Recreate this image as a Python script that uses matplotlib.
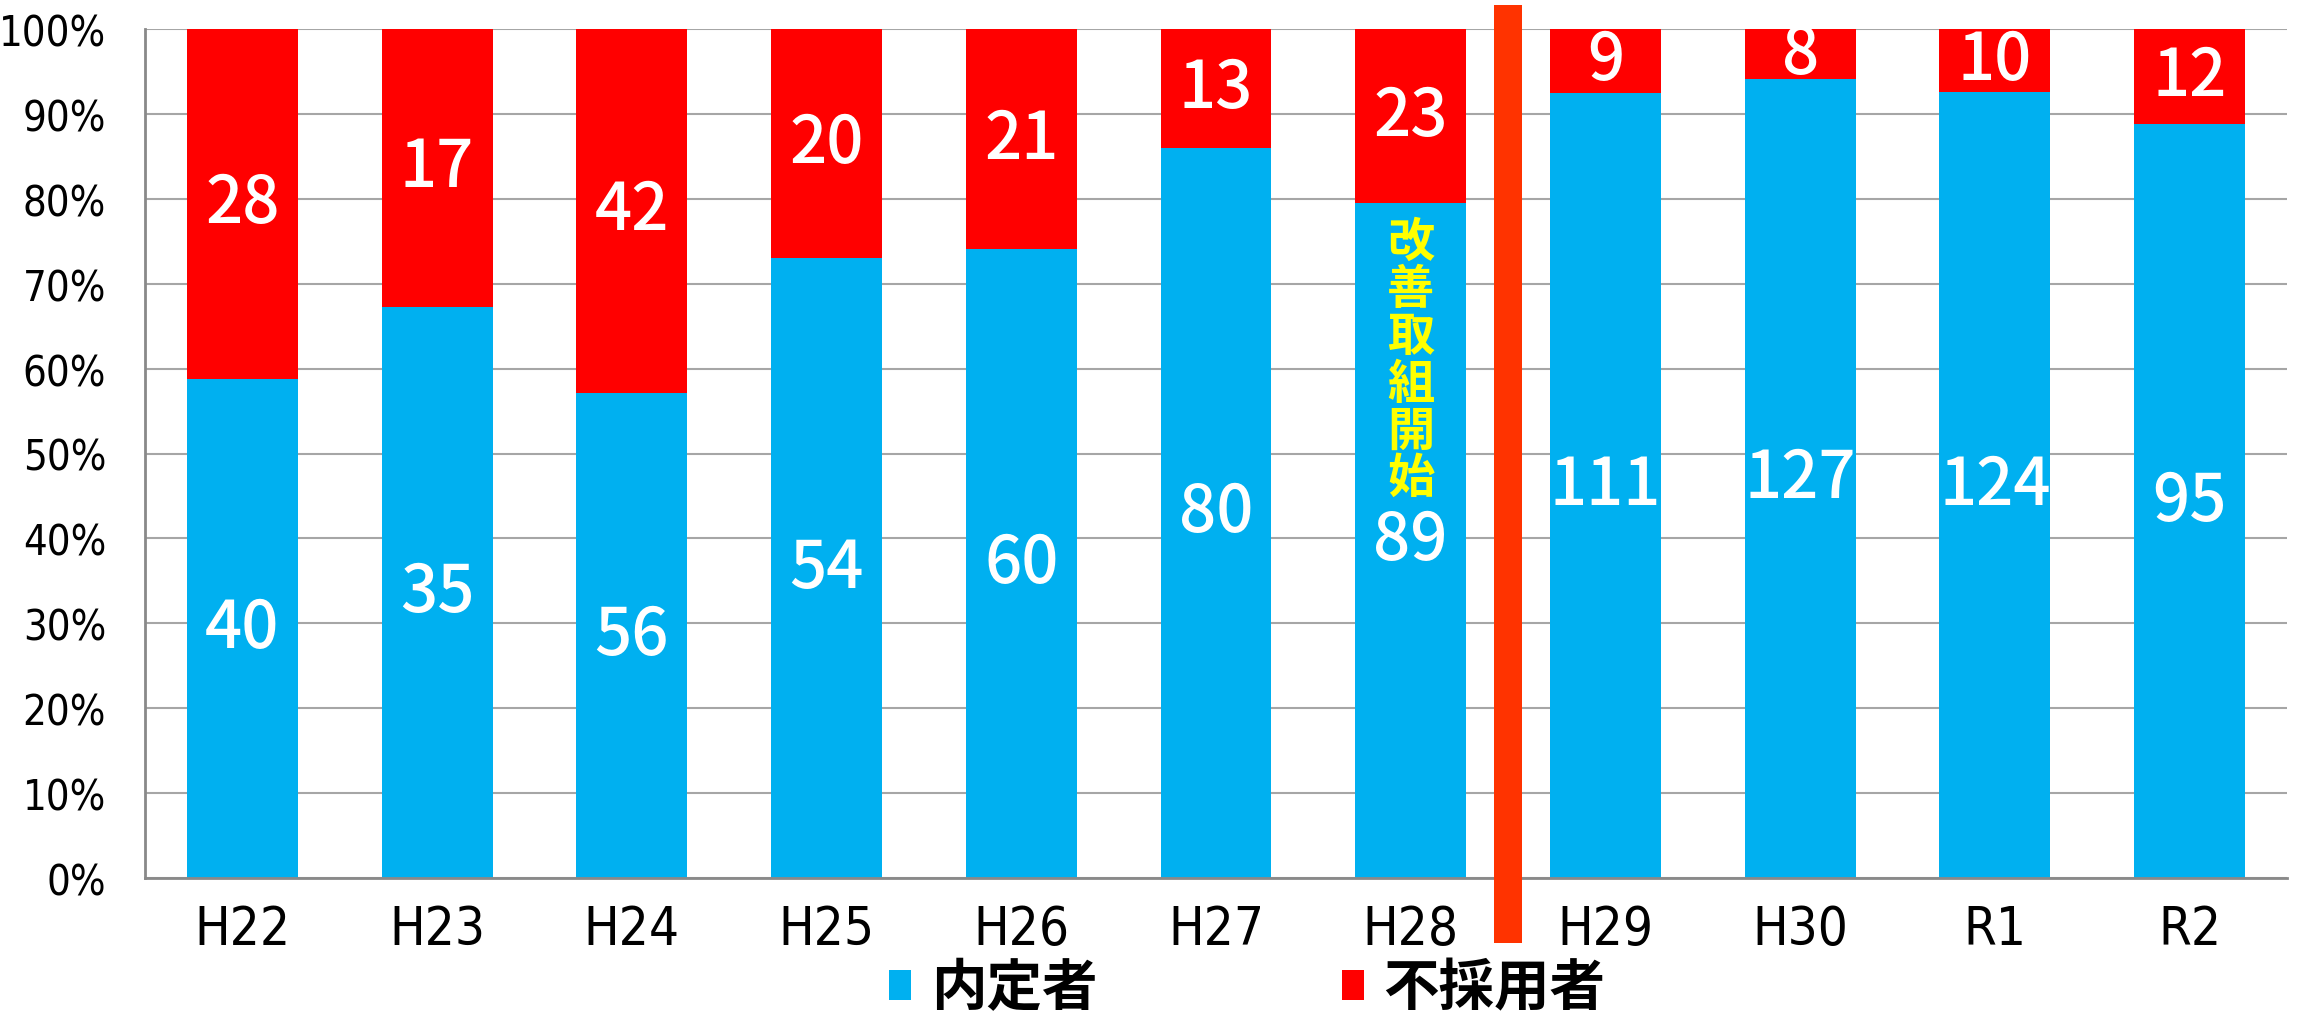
# 内定者 / 不採用者 の割合（100%積み上げ棒グラフ）

import numpy
import matplotlib
matplotlib.use('Agg')
import matplotlib.pyplot
import matplotlib.transforms
from matplotlib.patches import Rectangle, Patch

# Data
years = ['H22', 'H23', 'H24', 'H25', 'H26', 'H27', 'H28', 'H29', 'H30', 'R1', 'R2']
naitei = [40, 35, 56, 54, 60, 80, 89, 111, 127, 124, 95]
fusaiyo = [28, 17, 42, 20, 21, 13, 23, 9, 8, 10, 12]
y_ticks = [0, 10, 20, 30, 40, 50, 60, 70, 80, 90, 100]
legend_names = ['内定者', '不採用者']
note_text = '改善取組開始'
note_bar = 'H28'

blue = '#00B0F0'
red = '#FF0000'

jp_font = ['Noto Sans CJK JP', 'DejaVu Sans']
narrow_font = ['DejaVu Sans']

naitei = numpy.array(naitei, dtype=float)
fusaiyo = numpy.array(fusaiyo, dtype=float)
total = naitei + fusaiyo
p_naitei = naitei / total * 100
p_fusaiyo = fusaiyo / total * 100

fig = matplotlib.pyplot.figure(figsize=(22.97, 10.20), dpi=100, facecolor='white')
ax = fig.add_axes([145/2297, 1-879/1020, (2287-145)/2297, (879-30)/1020])

x = numpy.arange(len(years))
width = 0.57
ax.bar(x, p_naitei, width, color=blue, zorder=3)
ax.bar(x, p_fusaiyo, width, bottom=p_naitei, color=red, zorder=3)

# value labels
for i in range(len(years)):
    ax.text(x[i], p_naitei[i]/2, '%d' % naitei[i], ha='center', va='center',
            color='white', fontsize=47, family=jp_font, weight='medium', zorder=5)
    ax.text(x[i], p_naitei[i] + p_fusaiyo[i]/2, '%d' % fusaiyo[i],
            ha='center', va='center', color='white', fontsize=47,
            family=jp_font, weight='medium', zorder=5)

# note in H28 bar
k = years.index(note_bar)
ax.text(x[k], 61, '\n'.join(note_text), ha='center', va='center',
        color='#FFFF00', fontsize=34, family=jp_font, weight='bold',
        linespacing=0.98, zorder=5)

# red divider between H28 and H29
trans = matplotlib.transforms.blended_transform_factory(ax.transData, ax.transAxes)
ax.add_patch(Rectangle((k + 0.5 - 0.07, -0.077), 0.14, 1.105,
                       transform=trans, facecolor='#FF3300',
                       edgecolor='none', clip_on=False, zorder=6))

ax.set_xlim(-0.5, len(years) - 0.5)
ax.set_ylim(0, 100)
ax.set_yticks(y_ticks)
ax.set_yticklabels(['%d%%' % v for v in y_ticks], family=narrow_font,
                   fontsize=30, fontstretch='condensed')
ax.set_xticks(x)
ax.set_xticklabels(years, family=narrow_font, fontsize=38, fontstretch='condensed')
ax.tick_params(axis='y', length=0, pad=28)
ax.tick_params(axis='x', length=0, pad=18)

ax.yaxis.grid(True, color='#A6A6A6', linewidth=1.5, zorder=0)
ax.set_axisbelow(True)
for s in ['top', 'right']:
    ax.spines[s].set_visible(False)
for s in ['left', 'bottom']:
    ax.spines[s].set_color('#898989')
    ax.spines[s].set_linewidth(2)
    ax.spines[s].set_zorder(4)

handles = [Patch(facecolor=blue), Patch(facecolor=red)]
fig.legend(handles, legend_names, loc='center', bbox_to_anchor=(0.543, 0.03),
           ncol=2, frameon=False, handlelength=0.4, handleheight=0.45,
           handletextpad=0.35, columnspacing=4.4,
           prop={'family': jp_font, 'size': 40, 'weight': 'bold'})

matplotlib.pyplot.savefig('out.png', dpi=100, facecolor=fig.get_facecolor())
